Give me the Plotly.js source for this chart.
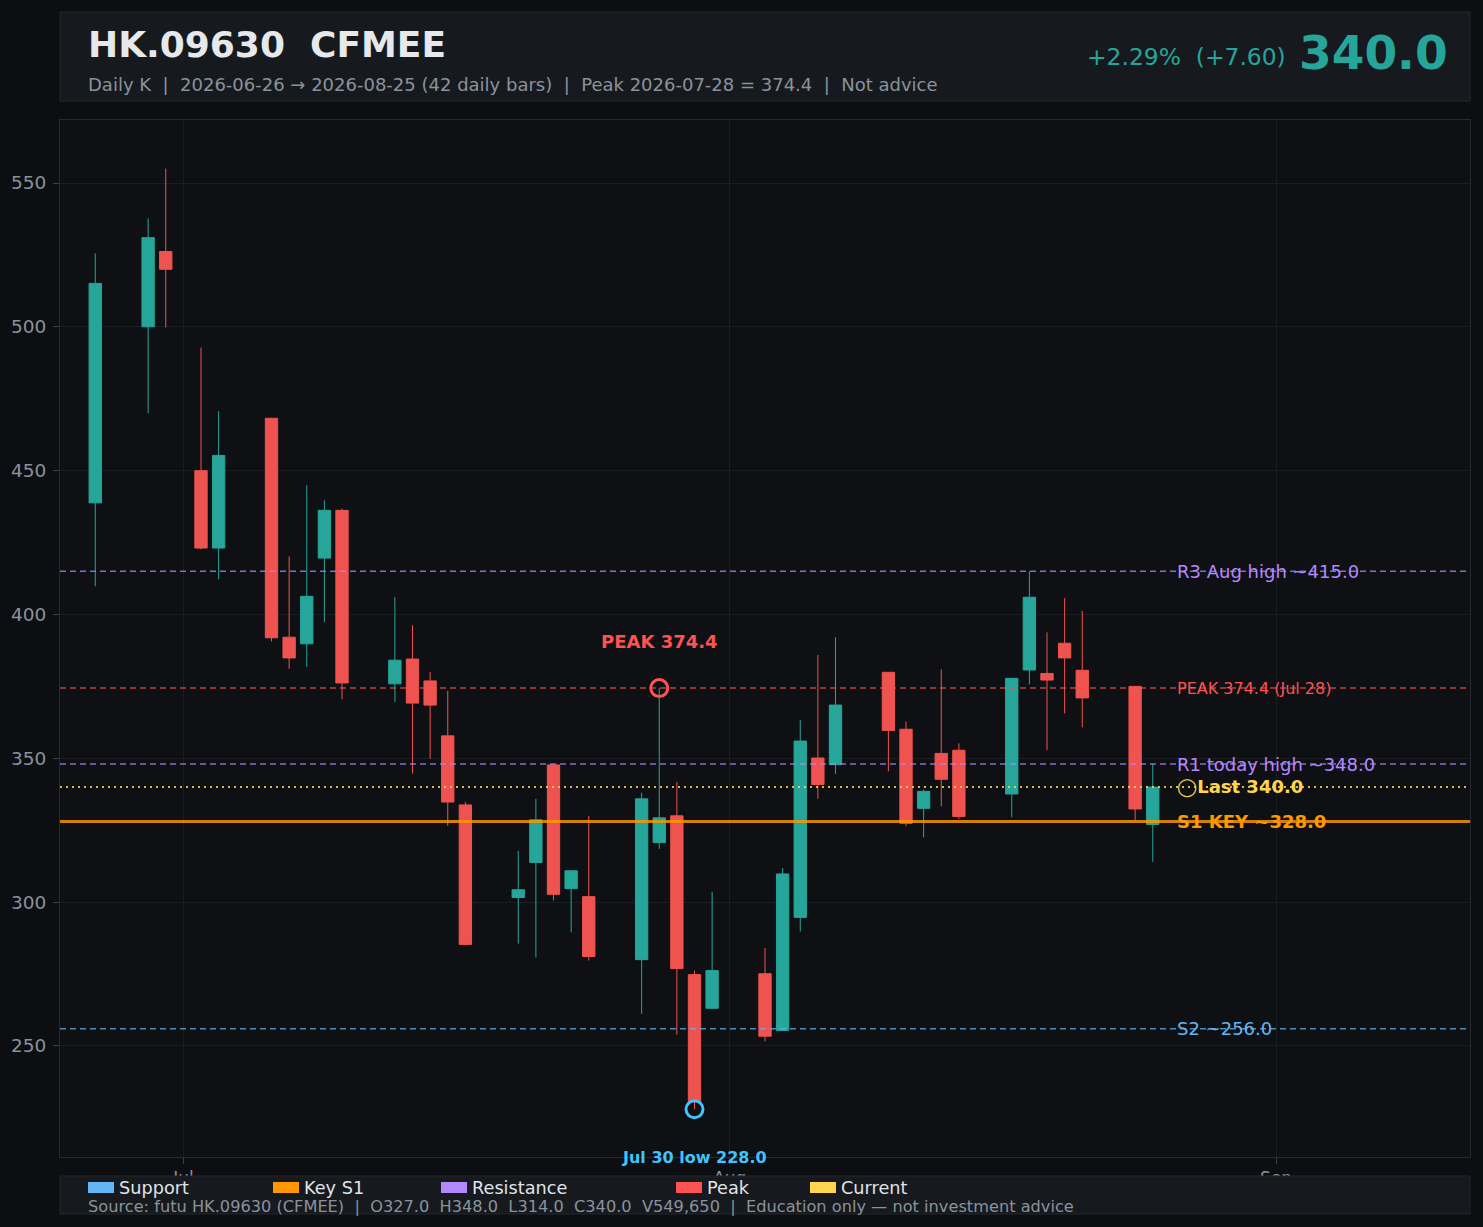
<!DOCTYPE html>
<html>
<head>
<meta charset="utf-8">
<script src="https://cdn.plot.ly/plotly-3.0.1.min.js"></script>
<style>
html,body{margin:0;padding:0;background:#0c0e11;}
#chart{width:1483px;height:1227px;}
</style>
</head>
<body>
<div id="chart"></div>
<script>
// ---- Data ----
const dates = ['2026-06-26','2026-06-29','2026-06-30','2026-07-02','2026-07-03','2026-07-06','2026-07-07','2026-07-08','2026-07-09','2026-07-10',
  '2026-07-13','2026-07-14','2026-07-15','2026-07-16','2026-07-17','2026-07-20','2026-07-21','2026-07-22','2026-07-23','2026-07-24',
  '2026-07-27','2026-07-28','2026-07-29','2026-07-30','2026-07-31','2026-08-03','2026-08-04','2026-08-05','2026-08-06','2026-08-07',
  '2026-08-10','2026-08-11','2026-08-12','2026-08-13','2026-08-14','2026-08-17','2026-08-18','2026-08-19','2026-08-20','2026-08-21',
  '2026-08-24','2026-08-25'];
const openV  = [438.8,500.0,526.2,450.0,423.1,468.2,392.1,389.8,419.6,436.2,
  375.9,384.5,376.9,357.8,333.8,301.6,313.8,347.7,304.7,301.9,
  280.0,320.7,330.0,274.8,263.1,275.1,255.4,294.7,350.1,347.8,
  379.9,360.1,332.6,351.7,352.8,337.6,380.7,379.5,390.0,380.6,
  375.0,327.0];
const highV  = [525.5,537.7,555.0,492.8,470.7,468.4,420.2,444.9,439.7,436.8,
  406.0,396.3,380.0,373.4,334.8,317.8,335.9,348.0,311.0,330.0,
  338.0,374.4,341.8,276.2,303.6,284.1,311.9,363.3,385.9,392.1,
  380.0,362.8,339.2,380.9,355.2,377.9,415.0,393.8,405.7,401.2,
  375.1,348.0];
const lowV   = [409.8,470.0,499.8,422.6,412.2,390.6,381.1,381.8,397.4,370.5,
  369.6,344.7,349.8,326.5,285.1,285.6,280.8,300.6,289.5,279.7,
  261.2,318.5,253.9,228.0,262.8,251.6,255.3,289.8,335.9,344.6,
  345.5,326.4,322.5,333.3,328.9,329.5,375.7,352.8,365.6,360.8,
  328.4,314.0];
const closeV = [515.1,531.0,520.0,423.1,455.3,391.9,384.9,406.3,436.2,376.2,
  384.1,369.2,368.5,334.8,285.3,304.3,328.6,302.7,310.9,281.1,
  335.9,329.3,276.9,230.6,276.2,253.4,309.8,356.0,340.9,368.5,
  359.7,327.4,338.5,342.7,329.8,377.8,406.0,377.2,384.9,371.0,
  332.4,340.0];

const levelNames  = ['R3 Aug high ~415.0','PEAK 374.4 (Jul 28)','R1 today high ~348.0','Last 340.0','S1 KEY ~328.0','S2 ~256.0'];
const levelValues = [415.0, 374.4, 348.0, 340.0, 328.0, 256.0];

const peakDate = '2026-07-28', peakValue = 374.4;
const lowDate = '2026-07-30', lowValue = 228.0;

const yTicks = [250,300,350,400,450,500,550];
const xTickVals = ['2026-07-01','2026-08-01','2026-09-01'];
const xTickText = ['Jul','Aug','Sep'];

const legendNames = ['Support','Key S1','Resistance','Peak','Current'];

// ---- Styling helpers ----
const W = 1483, H = 1227, ML = 60, MR = 13, MT = 120, MB = 70;
const PW = W - ML - MR, PH = H - MT - MB;
const px = x => (x - ML) / PW;
const py = y => 1 - (y - MT) / PH;
const FONT = 'DejaVu Sans, sans-serif';
const GREEN = '#26a69a', RED = '#ef5350';
const C_SUP = '#64b5f6', C_KEY = '#ff9800', C_RES = '#b388ff', C_PEAK = '#ff5252', C_CUR = '#ffd54f';
const GRAY = '#8b929b';

const traces = [
  {
    type: 'candlestick', x: dates, open: openV, high: highV, low: lowV, close: closeV,
    increasing: {line: {color: GREEN, width: 1}, fillcolor: GREEN},
    decreasing: {line: {color: RED, width: 1}, fillcolor: RED},
    whiskerwidth: 0, showlegend: false, name: 'HK.09630'
  },
  {
    type: 'scatter', mode: 'markers', x: [peakDate], y: [peakValue], showlegend: false,
    marker: {symbol: 'circle-open', size: 17, color: C_PEAK, line: {width: 3, color: C_PEAK}}
  },
  {
    type: 'scatter', mode: 'markers', x: [lowDate], y: [lowValue], showlegend: false,
    marker: {symbol: 'circle-open', size: 17, color: '#40c4ff', line: {width: 3, color: '#40c4ff'}}
  }
];

const shapes = [];
const annotations = [];

// header & footer boxes
shapes.push({type:'rect', xref:'paper', yref:'paper', x0:0, x1:1, y0:py(101), y1:py(12),
  fillcolor:'#161a1f', line:{color:'#22262c', width:1}, layer:'above'});
shapes.push({type:'rect', xref:'paper', yref:'paper', x0:0, x1:1, y0:py(1214), y1:py(1176),
  fillcolor:'#161a1f', line:{color:'#22262c', width:1}, layer:'above'});

// level lines
const lineStyles = [
  {color:'rgba(179,136,255,0.75)', width:1.5, dash:'6px,4px'},
  {color:'rgba(255,82,82,0.72)', width:1.5, dash:'6px,4px'},
  {color:'rgba(179,136,255,0.75)', width:1.5, dash:'6px,4px'},
  {color:'rgba(255,213,79,0.85)', width:2, dash:'2px,4px'},
  {color:'rgba(255,152,0,0.82)', width:3, dash:'solid'},
  {color:'rgba(100,181,246,0.75)', width:1.5, dash:'6px,4px'}
];
const labelStyles = [
  {color:C_RES, size:18, bold:false, pre:''},
  {color:C_PEAK, size:16, bold:false, pre:''},
  {color:C_RES, size:18, bold:false, pre:''},
  {color:C_CUR, size:18, bold:true, pre:'\u25EF'},
  {color:C_KEY, size:18, bold:true, pre:''},
  {color:C_SUP, size:18, bold:false, pre:''}
];
levelValues.forEach((v, i) => {
  shapes.push({type:'line', xref:'paper', yref:'y', x0:0, x1:1, y0:v, y1:v,
    line: lineStyles[i], layer:'above'});
  const s = labelStyles[i];
  const t = s.bold ? '<b>' + levelNames[i] + '</b>' : levelNames[i];
  annotations.push({xref:'paper', yref:'y', x:px(1175), y:v, xanchor:'left', yanchor:'middle',
    text: s.pre + t, showarrow:false, font:{family:FONT, size:s.size, color:s.color}});
});

// peak / low annotations
annotations.push({xref:'x', yref:'y', x:peakDate, y:peakValue, yshift:47, showarrow:false,
  text:'<b>PEAK 374.4</b>', font:{family:FONT, size:18, color:C_PEAK}});
annotations.push({xref:'x', yref:'y', x:lowDate, y:lowValue, yshift:-48, showarrow:false,
  text:'<b>Jul 30 low 228.0</b>', font:{family:FONT, size:16, color:'#40c4ff'}});

// header text
annotations.push({xref:'paper', yref:'paper', x:px(86), y:py(44), xanchor:'left', yanchor:'middle', showarrow:false,
  text:'<b>HK.09630\u00a0\u00a0CFMEE</b>', font:{family:FONT, size:36, color:'#e6e8eb'}});
annotations.push({xref:'paper', yref:'paper', x:px(86), y:py(85), xanchor:'left', yanchor:'middle', showarrow:false,
  text:'Daily K\u00a0\u00a0|\u00a0\u00a02026-06-26 \u2192 2026-08-25 (42 daily bars)\u00a0\u00a0|\u00a0\u00a0Peak 2026-07-28 = 374.4\u00a0\u00a0|\u00a0\u00a0Not advice',
  font:{family:FONT, size:18, color:GRAY}});
annotations.push({xref:'paper', yref:'paper', x:px(1450), y:py(53), xanchor:'right', yanchor:'middle', showarrow:false,
  text:'<b>340.0</b>', font:{family:FONT, size:47, color:GREEN}});
annotations.push({xref:'paper', yref:'paper', x:px(1288), y:py(57), xanchor:'right', yanchor:'middle', showarrow:false,
  text:'+2.29%\u00a0\u00a0(+7.60)', font:{family:FONT, size:23.4, color:GREEN}});

// legend (boxes + labels)
const legendColors = [C_SUP, C_KEY, C_RES, C_PEAK, C_CUR];
const legendX = [88, 273, 441, 676, 810];
legendNames.forEach((n, i) => {
  shapes.push({type:'rect', xref:'paper', yref:'paper', x0:px(legendX[i]), x1:px(legendX[i]+26),
    y0:py(1193), y1:py(1182), fillcolor:legendColors[i], line:{width:0}, layer:'above'});
  annotations.push({xref:'paper', yref:'paper', x:px(legendX[i]+29), y:py(1187.5), xanchor:'left', yanchor:'middle',
    showarrow:false, text:n, font:{family:FONT, size:17.7, color:'#e0e3e7'}});
});
annotations.push({xref:'paper', yref:'paper', x:px(86), y:py(1206), xanchor:'left', yanchor:'middle', showarrow:false,
  text:'Source: futu HK.09630 (CFMEE)\u00a0\u00a0|\u00a0\u00a0O327.0\u00a0\u00a0H348.0\u00a0\u00a0L314.0\u00a0\u00a0C340.0\u00a0\u00a0V549,650\u00a0\u00a0|\u00a0\u00a0Education only \u2014 not investment advice',
  font:{family:FONT, size:16.2, color:GRAY}});

const layout = {
  width: W, height: H,
  margin: {l: ML, r: MR, t: MT, b: MB, pad: 0},
  paper_bgcolor: '#0c0e11', plot_bgcolor: '#0e1013',
  font: {family: FONT, color: GRAY, size: 16},
  showlegend: false,
  boxgap: 0.3, boxgroupgap: 0,
  xaxis: {
    type: 'date', range: ['2026-06-24', '2026-09-12'],
    rangeslider: {visible: false},
    tickvals: xTickVals, ticktext: xTickText,
    ticks: 'outside', ticklen: 6, tickcolor: '#3a3f47',
    showgrid: true, gridcolor: '#1a1d22', gridwidth: 1,
    showline: true, mirror: true, linecolor: '#262a30', linewidth: 1,
    zeroline: false, tickfont: {family: FONT, size: 17, color: GRAY}
  },
  yaxis: {
    range: [211.4, 571.9], tickvals: yTicks,
    ticks: 'outside', ticklen: 6, tickcolor: '#3a3f47',
    ticklabelstandoff: 3,
    showgrid: true, gridcolor: '#1a1d22', gridwidth: 1,
    showline: true, mirror: true, linecolor: '#262a30', linewidth: 1,
    zeroline: false, tickfont: {family: FONT, size: 18.5, color: GRAY}
  },
  shapes: shapes,
  annotations: annotations
};

Plotly.newPlot('chart', traces, layout, {displayModeBar: false, staticPlot: true});
</script>
</body>
</html>
